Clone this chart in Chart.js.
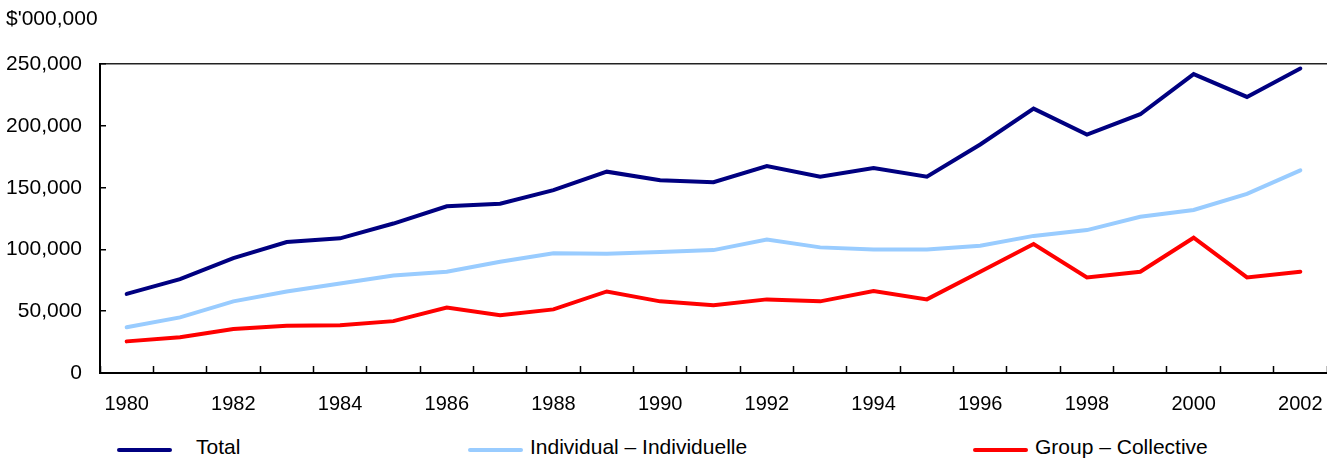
<!DOCTYPE html>
<html>
<head>
<meta charset="utf-8">
<script src="https://cdn.jsdelivr.net/npm/chart.js@4"></script>
<style>
    html, body { margin: 0; padding: 0; background: #fff; overflow: hidden; }
    #wrap { position: relative; width: 1327px; height: 459px; }
    #box { position: absolute; left: 0; top: 0; width: 1327px; height: 430px; }
    #legend { position: absolute; left: 117px; top: 435px; display: flex; font: 21px "Liberation Sans", Arial, sans-serif; color: #000; }
    #legend .item { display: flex; align-items: center; height: 24px; }
    #legend .item:nth-child(1) { width: 351px; }
    #legend .item:nth-child(2) { width: 505px; }
    #legend .line { width: 55px; height: 4px; border-radius: 2px; margin-top: 6px; margin-right: 7px; }
    #legend .item:nth-child(1) .line { margin-right: 24px; }
</style>
</head>
<body>
<div id="wrap">
    <div id="box"><canvas id="lineChart"></canvas></div>
    <div id="legend"></div>
</div>
<script>
const years = ['1980', '1981', '1982', '1983', '1984', '1985', '1986', '1987', '1988', '1989', '1990', '1991',
    '1992', '1993', '1994', '1995', '1996', '1997', '1998', '1999', '2000', '2001', '2002'];

const total = [64000, 76000, 93000, 106000, 109000, 121000, 135000, 137000, 148000, 163000, 156000, 154500,
    167500, 159000, 166000, 159000, 185000, 214000, 193000, 209500, 242000, 223500, 246500];

const individual = [37000, 45000, 58000, 66000, 72500, 79000, 82000, 90000, 97000, 96500, 98000, 99500,
    108000, 101700, 100000, 100000, 103000, 111000, 115700, 126500, 132000, 145000, 164000];

const group = [25600, 29000, 35600, 38300, 38600, 42000, 53000, 46700, 51500, 66000, 58000, 54800,
    59600, 58000, 66300, 59600, 82000, 104400, 77400, 82000, 109500, 77400, 82000];

const yTicks = [0, 50000, 100000, 150000, 200000, 250000];

document.addEventListener('DOMContentLoaded', function() {
    const family = '"Liberation Sans", Arial, sans-serif';

    const data = {
        labels: years,
        datasets: [
            { label: 'Total', data: total, borderColor: '#000080', backgroundColor: '#000080' },
            { label: 'Individual – Individuelle', data: individual, borderColor: '#99CCFF', backgroundColor: '#99CCFF' },
            { label: 'Group – Collective', data: group, borderColor: '#FF0000', backgroundColor: '#FF0000' }
        ]
    };

    const config = {
        type: 'line',
        data: data,
        options: {
            responsive: true,
            maintainAspectRatio: false,
            animation: false,
            layout: { padding: { left: 6, right: 0, top: 0, bottom: 11 } },
            elements: {
                line: { borderWidth: 4, tension: 0, borderCapStyle: 'round', borderJoinStyle: 'miter' },
                point: { radius: 0 }
            },
            scales: {
                x: {
                    offset: true,
                    afterFit: function(axis) {
                        axis.height = 46;
                        axis.paddingLeft = 0;
                        axis.paddingRight = 0;
                    },
                    grid: {
                        offset: true,
                        drawOnChartArea: false,
                        tickLength: -7,
                        tickWidth: 1.5,
                        tickColor: '#000'
                    },
                    border: { color: '#000', width: 2 },
                    ticks: {
                        autoSkip: false,
                        maxRotation: 0,
                        padding: 26,
                        color: '#000',
                        font: { family: family, size: 20 },
                        callback: function(value, index) {
                            return index % 2 === 0 ? years[index] : '';
                        }
                    }
                },
                y: {
                    min: 0,
                    max: 250000,
                    afterFit: function(axis) { axis.width = 94; },
                    afterBuildTicks: function(axis) {
                        axis.ticks = yTicks.map(function(v) { return { value: v }; });
                    },
                    grid: {
                        tickLength: -6,
                        tickWidth: 1.5,
                        tickColor: '#000',
                        lineWidth: 1.5,
                        color: function(ctx) {
                            return ctx.tick && ctx.tick.value === 250000 ? '#222' : 'rgba(0,0,0,0)';
                        }
                    },
                    border: { color: '#000', width: 2 },
                    ticks: {
                        padding: 24,
                        color: '#000',
                        font: { family: family, size: 21 },
                        callback: function(value) {
                            return value.toLocaleString('en-US');
                        }
                    }
                }
            },
            plugins: {
                legend: { display: false },
                tooltip: { enabled: false },
                title: {
                    display: true,
                    text: "$'000,000",
                    align: 'start',
                    color: '#000',
                    font: { family: family, size: 21, weight: 'normal' },
                    padding: { top: 7, bottom: 32 }
                }
            }
        }
    };

    const ctx = document.getElementById('lineChart').getContext('2d');
    const chart = new Chart(ctx, config);

    // legend built from the datasets
    const legend = document.getElementById('legend');
    chart.data.datasets.forEach(function(ds) {
        const item = document.createElement('div');
        item.className = 'item';
        const line = document.createElement('span');
        line.className = 'line';
        line.style.background = ds.borderColor;
        const text = document.createElement('span');
        text.textContent = ds.label;
        item.appendChild(line);
        item.appendChild(text);
        legend.appendChild(item);
    });
});
</script>
</body>
</html>
